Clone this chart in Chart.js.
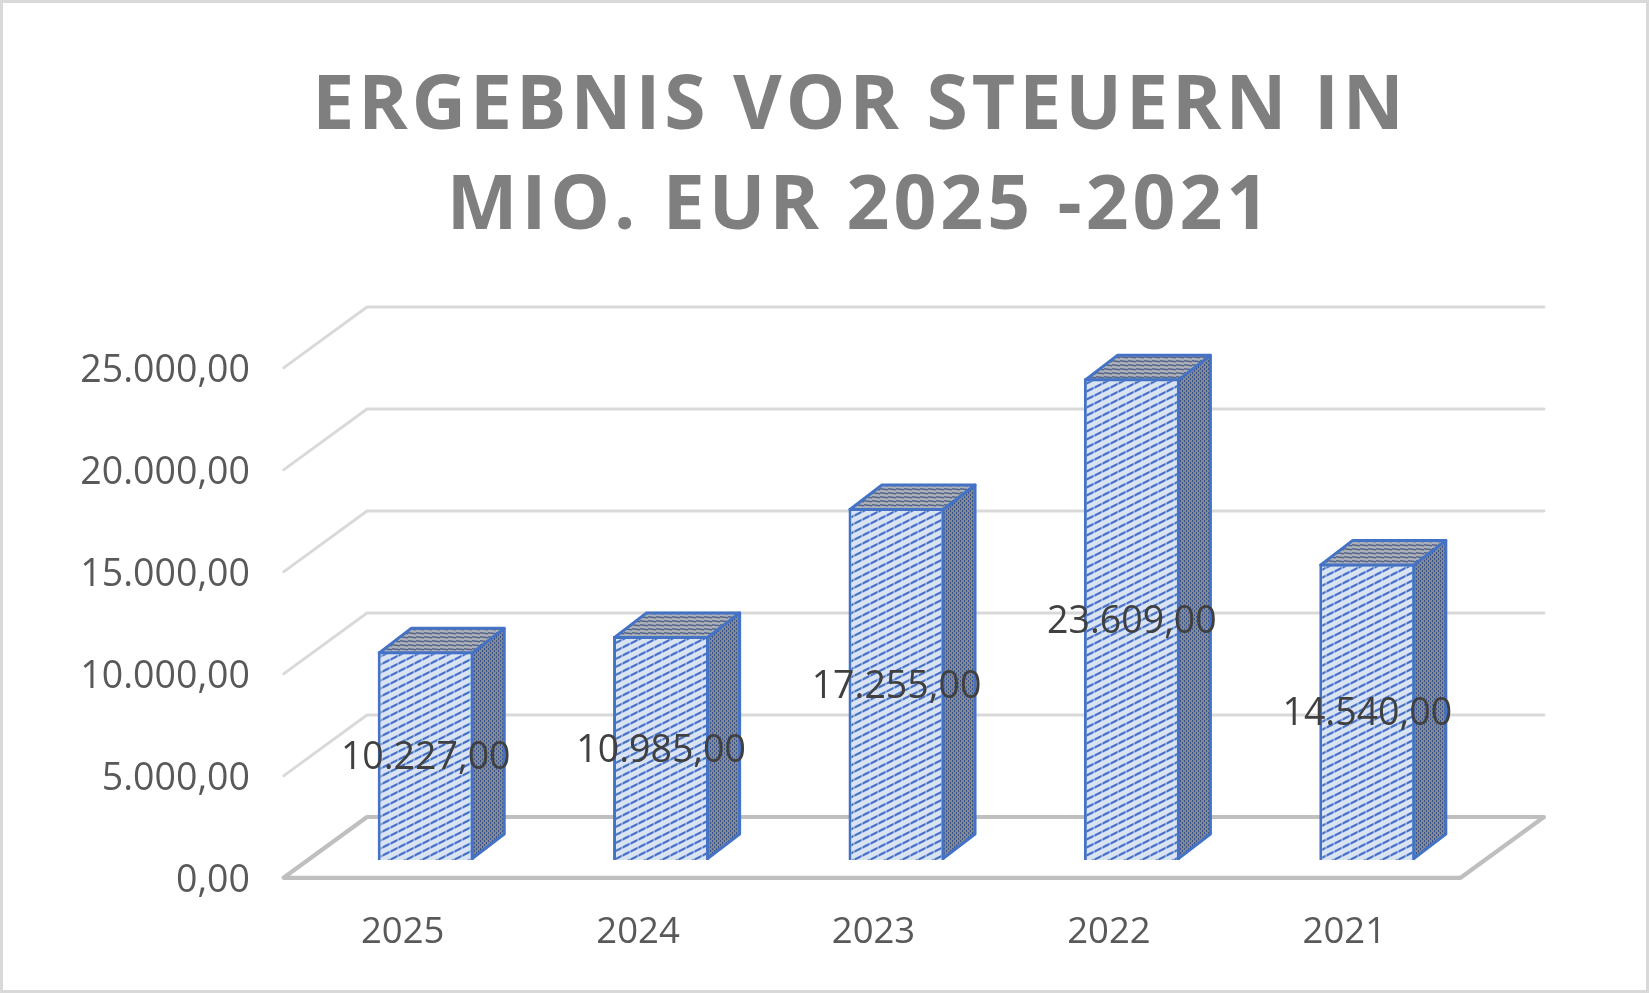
<!DOCTYPE html>
<html><head><meta charset="utf-8">
<script src="https://cdn.jsdelivr.net/npm/chart.js@4.4.1/dist/chart.umd.min.js"></script>
<style>html,body{margin:0;padding:0;background:#fff;overflow:hidden}#wrap{width:1649px;height:993px;position:relative}</style>
</head><body><div id="wrap"><canvas id="c"></canvas></div>
<script>
const titleLines = ['ERGEBNIS VOR STEUERN IN', 'MIO. EUR 2025 -2021'];
const categories = ['2025', '2024', '2023', '2022', '2021'];
const values = [10227, 10985, 17255, 23609, 14540];
const yTickValues = [0, 5000, 10000, 15000, 20000, 25000];

function fmtDE(v) {
  const neg = v < 0; v = Math.abs(v);
  const parts = v.toFixed(2).split('.');
  return (neg ? '-' : '') + parts[0].replace(/\B(?=(\d{3})+(?!\d))/g, '.') + ',' + parts[1];
}

// 3D plane offsets relative to the bar (front face) plane
const FRONT = {dx: -24.4, dy: 17.8};
const BACK = {dx: 59, dy: -43};
const DEPTH = {dx: 32, dy: -24.5};
const TITLE_CENTER_X = 860;

function makePattern(w, h, draw) {
  const c = document.createElement('canvas');
  c.width = w; c.height = h;
  const g = c.getContext('2d');
  draw(g);
  return document.getElementById('c').getContext('2d').createPattern(c, 'repeat');
}
function poly(g, pts) {
  g.beginPath();
  g.moveTo(pts[0][0], pts[0][1]);
  for (let k = 1; k < pts.length; k++) g.lineTo(pts[k][0], pts[k][1]);
  g.closePath(); g.fill();
}
const frontPattern = makePattern(16, 8, g => {
  g.fillStyle = '#dae3f3'; g.fillRect(0, 0, 16, 8);
  g.fillStyle = '#4472c4';
  const t = 2.4;
  poly(g, [[0, 8], [16, 0], [16, -t], [0, 8 - t]]);
  poly(g, [[0, 16], [16, 8], [16, 8 - t], [0, 16 - t]]);
  // lighter step shading to mimic the dashed stair look
  g.fillStyle = 'rgba(218,227,243,0.45)';
  g.fillRect(5, 0, 2, 8); g.fillRect(13, 0, 2, 8);
});
const sidePattern = makePattern(4, 4, g => {
  g.fillStyle = '#85888f'; g.fillRect(0, 0, 4, 4);
  g.fillStyle = '#36538e';
  g.fillRect(0, 0, 1, 2); g.fillRect(2, 2, 1, 2);
});
const topPattern = makePattern(8, 4, g => {
  g.fillStyle = '#acb0b8'; g.fillRect(0, 0, 8, 4);
  g.strokeStyle = '#55658a'; g.lineWidth = 1.4;
  g.beginPath(); g.moveTo(0, 0.8); g.lineTo(8, 1.8); g.stroke();
});

const threeD = {
  id: 'threeD',
  beforeDraw(chart) {
    const t = chart.titleBlock;
    if (t && !t._spaced) {
      const orig = t.draw.bind(t);
      t.draw = function (a) {
        const ctx = chart.ctx;
        ctx.save();
        try { ctx.letterSpacing = '4px'; } catch (e) {}
        ctx.translate(TITLE_CENTER_X - (t.left + t.right) / 2, 0);
        orig(a);
        ctx.restore();
      };
      t._spaced = true;
    }
  },
  beforeDatasetsDraw(chart) {
    const {ctx, chartArea: {left, right}, scales: {y}} = chart;
    ctx.save();
    ctx.lineCap = 'round'; ctx.lineJoin = 'round';
    y.ticks.forEach(t => {
      const py = y.getPixelForValue(t.value);
      if (t.value === 0) {
        ctx.strokeStyle = '#bfbfbf'; ctx.lineWidth = 4.2;
        ctx.beginPath();
        ctx.moveTo(left + FRONT.dx, py + FRONT.dy);
        ctx.lineTo(left + BACK.dx, py + BACK.dy);
        ctx.lineTo(right + BACK.dx, py + BACK.dy);
        ctx.lineTo(right + FRONT.dx, py + FRONT.dy);
        ctx.closePath();
        ctx.stroke();
      } else {
        ctx.strokeStyle = '#d9d9d9'; ctx.lineWidth = 2.8;
        ctx.beginPath();
        ctx.moveTo(left + FRONT.dx, py + FRONT.dy);
        ctx.lineTo(left + BACK.dx, py + BACK.dy);
        ctx.lineTo(right + BACK.dx, py + BACK.dy);
        ctx.stroke();
      }
    });
    ctx.restore();
  },
  afterDatasetsDraw(chart) {
    const ctx = chart.ctx;
    const meta = chart.getDatasetMeta(0);
    ctx.save();
    ctx.lineJoin = 'round';
    meta.data.forEach((bar, i) => {
      const p = bar.getProps(['x', 'y', 'base', 'width'], true);
      const x0 = p.x - p.width / 2, x1 = p.x + p.width / 2;
      const top = Math.min(p.y, p.base), bot = Math.max(p.y, p.base);
      const h = 1.5;
      ctx.strokeStyle = '#4472c4'; ctx.lineWidth = 3;
      // side face
      ctx.beginPath();
      ctx.moveTo(x1 - h, top + h);
      ctx.lineTo(x1 - h + DEPTH.dx, top + h + DEPTH.dy);
      ctx.lineTo(x1 - h + DEPTH.dx, bot - h + DEPTH.dy);
      ctx.lineTo(x1 - h, bot - h);
      ctx.closePath();
      ctx.fillStyle = sidePattern; ctx.fill(); ctx.stroke();
      // top face
      ctx.beginPath();
      ctx.moveTo(x0 + h, top + h);
      ctx.lineTo(x0 + h + DEPTH.dx, top + h + DEPTH.dy);
      ctx.lineTo(x1 - h + DEPTH.dx, top + h + DEPTH.dy);
      ctx.lineTo(x1 - h, top + h);
      ctx.closePath();
      ctx.fillStyle = topPattern; ctx.fill(); ctx.stroke();
    });
    // data labels
    ctx.fillStyle = '#404040';
    ctx.font = '37.5px "Open Sans"';
    ctx.textAlign = 'center'; ctx.textBaseline = 'middle';
    meta.data.forEach((bar, i) => {
      const p = bar.getProps(['x', 'y', 'base'], true);
      ctx.fillText(fmtDE(values[i]), p.x, (p.y + p.base) / 2 + 3);
    });
    ctx.restore();
  },
  afterDraw(chart) {
    const ctx = chart.ctx;
    ctx.save();
    ctx.strokeStyle = '#d9d9d9'; ctx.lineWidth = 3;
    ctx.strokeRect(1.5, 1.5, chart.width - 3, chart.height - 3);
    ctx.restore();
  }
};

Chart.defaults.font.family = '"Open Sans", sans-serif';

new Chart(document.getElementById('c'), {
  type: 'bar',
  data: {
    labels: categories,
    datasets: [{
      label: 'Ergebnis vor Steuern',
      data: values,
      backgroundColor: frontPattern,
      borderColor: '#4472c4',
      borderWidth: 3,
      barPercentage: 0.408,
      categoryPercentage: 1
    }]
  },
  options: {
    responsive: true,
    maintainAspectRatio: false,
    animation: false,
    layout: {padding: {top: 0, left: 8, right: 164, bottom: 41}},
    plugins: {
      legend: {display: false},
      tooltip: {enabled: false},
      title: {
        display: true,
        text: titleLines,
        color: '#7f7f7f',
        font: {size: 75, weight: 'bold', lineHeight: 1.3333},
        padding: {top: 57.5, bottom: 92.5}
      }
    },
    scales: {
      x: {
        grid: {display: false, drawTicks: false},
        border: {display: false},
        afterFit: s => { s.height = 92; },
        ticks: {padding: 51, labelOffset: -23, color: '#595959', font: {size: 36.5}, maxRotation: 0}
      },
      y: {
        min: 0, max: 25000,
        afterBuildTicks: s => { s.ticks = yTickValues.map(v => ({value: v})); },
        afterFit: s => { s.width = 300; },
        grid: {display: false, drawTicks: false},
        border: {display: false},
        ticks: {padding: 58, labelOffset: 21, color: '#595959', font: {size: 37.5}, callback: v => fmtDE(v)}
      }
    }
  },
  plugins: [threeD]
});
</script>
</body></html>
